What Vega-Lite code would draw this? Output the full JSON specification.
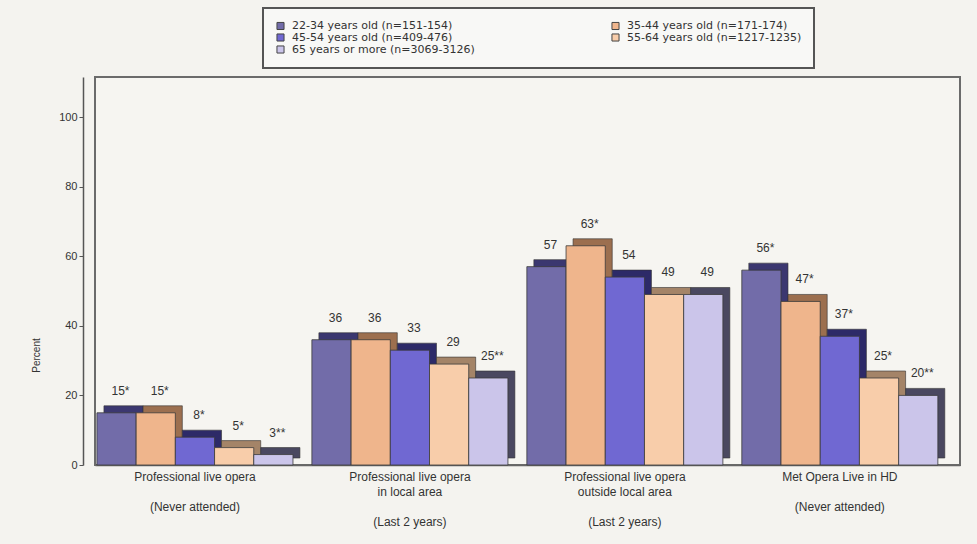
{
  "$schema": "https://vega.github.io/schema/vega-lite/v6.json",
  "width": 865,
  "height": 388,
  "autosize": {"type": "none"},
  "padding": {"left": 95, "top": 77, "right": 17, "bottom": 79},
  "background": "#f4f3ef",
  "config": {
    "font": "Liberation Sans",
    "view": {"stroke": "#6b6b6b", "strokeWidth": 2, "fill": "#f6f5f1"},
    "legend": {"strokeWidth": 2}
  },
  "data": {
    "values": [
      {"activity": "Professional live opera|\u2800|(Never attended)", "age": "22-34 years old (n=151-154)", "value": 15, "sig": "*"},
      {"activity": "Professional live opera|\u2800|(Never attended)", "age": "35-44 years old (n=171-174)", "value": 15, "sig": "*"},
      {"activity": "Professional live opera|\u2800|(Never attended)", "age": "45-54 years old (n=409-476)", "value": 8, "sig": "*"},
      {"activity": "Professional live opera|\u2800|(Never attended)", "age": "55-64 years old (n=1217-1235)", "value": 5, "sig": "*"},
      {"activity": "Professional live opera|\u2800|(Never attended)", "age": "65 years or more (n=3069-3126)", "value": 3, "sig": "**"},
      {"activity": "Professional live opera|in local area|\u2800|(Last 2 years)", "age": "22-34 years old (n=151-154)", "value": 36, "sig": ""},
      {"activity": "Professional live opera|in local area|\u2800|(Last 2 years)", "age": "35-44 years old (n=171-174)", "value": 36, "sig": ""},
      {"activity": "Professional live opera|in local area|\u2800|(Last 2 years)", "age": "45-54 years old (n=409-476)", "value": 33, "sig": ""},
      {"activity": "Professional live opera|in local area|\u2800|(Last 2 years)", "age": "55-64 years old (n=1217-1235)", "value": 29, "sig": ""},
      {"activity": "Professional live opera|in local area|\u2800|(Last 2 years)", "age": "65 years or more (n=3069-3126)", "value": 25, "sig": "**"},
      {"activity": "Professional live opera|outside local area|\u2800|(Last 2 years)", "age": "22-34 years old (n=151-154)", "value": 57, "sig": ""},
      {"activity": "Professional live opera|outside local area|\u2800|(Last 2 years)", "age": "35-44 years old (n=171-174)", "value": 63, "sig": "*"},
      {"activity": "Professional live opera|outside local area|\u2800|(Last 2 years)", "age": "45-54 years old (n=409-476)", "value": 54, "sig": ""},
      {"activity": "Professional live opera|outside local area|\u2800|(Last 2 years)", "age": "55-64 years old (n=1217-1235)", "value": 49, "sig": ""},
      {"activity": "Professional live opera|outside local area|\u2800|(Last 2 years)", "age": "65 years or more (n=3069-3126)", "value": 49, "sig": ""},
      {"activity": "Met Opera Live in HD|\u2800|(Never attended)", "age": "22-34 years old (n=151-154)", "value": 56, "sig": "*"},
      {"activity": "Met Opera Live in HD|\u2800|(Never attended)", "age": "35-44 years old (n=171-174)", "value": 47, "sig": "*"},
      {"activity": "Met Opera Live in HD|\u2800|(Never attended)", "age": "45-54 years old (n=409-476)", "value": 37, "sig": "*"},
      {"activity": "Met Opera Live in HD|\u2800|(Never attended)", "age": "55-64 years old (n=1217-1235)", "value": 25, "sig": "*"},
      {"activity": "Met Opera Live in HD|\u2800|(Never attended)", "age": "65 years or more (n=3069-3126)", "value": 20, "sig": "**"}
    ]
  },
  "encoding": {
    "x": {
      "field": "activity",
      "type": "nominal",
      "sort": null,
      "scale": {"paddingInner": 0.088, "paddingOuter": 0.056, "align": 0.08},
      "axis": {
        "title": null,
        "labelAngle": 0,
        "labelExpr": "split(datum.label, '|')",
        "labelLineHeight": 15,
        "labelFontSize": 12,
        "labelColor": "#333333",
        "labelPadding": 6,
        "labelLimit": 300,
        "ticks": false,
        "domainColor": "#666666",
        "domainWidth": 1.5
      }
    },
    "y": {
      "field": "value",
      "type": "quantitative",
      "scale": {"domain": [0, 111.5], "nice": false},
      "axis": {
        "title": "Percent",
        "titleFontSize": 10,
        "titleFontWeight": "normal",
        "titleColor": "#333333",
        "titleX": -42,
        "titleY": 278,
        "values": [0, 20, 40, 60, 80, 100],
        "offset": 12,
        "grid": false,
        "domainColor": "#555555",
        "domainWidth": 1.5,
        "tickColor": "#555555",
        "tickSize": 4,
        "labelFontSize": 11,
        "labelColor": "#333333",
        "labelPadding": 2
      }
    }
  },
  "layer": [
    {
      "mark": {"type": "bar", "yOffset": -7, "stroke": "#333333", "strokeWidth": 0.6},
      "encoding": {
        "xOffset": {
          "field": "age",
          "type": "nominal",
          "sort": null,
          "scale": {"paddingInner": 0, "paddingOuter": 0, "range": [7, 203]}
        },
        "color": {
          "field": "age",
          "type": "nominal",
          "sort": null,
          "scale": {"range": ["#3b3770", "#9c6f4f", "#2d2a68", "#a48468", "#4a4860"]},
          "legend": null
        }
      }
    },
    {
      "layer": [
        {
          "mark": {"type": "bar", "stroke": "#3a3a3a", "strokeWidth": 0.8},
          "encoding": {
            "color": {
              "field": "age",
              "type": "nominal",
              "sort": null,
              "scale": {"range": ["#726ca9", "#efb58c", "#7068d2", "#f8cdaa", "#cbc5ea"]},
              "legend": {
                "title": null,
                "orient": "none",
                "legendX": 168,
                "legendY": -69,
                "columns": 2,
                "direction": "horizontal",
                "columnPadding": 134,
                "rowPadding": -1,
                "padding": 12,
                "strokeColor": "#555555",
                "fillColor": "#f8f8f6",
                "symbolType": "square",
                "symbolSize": 50,
                "symbolStrokeColor": "#444444",
                "symbolStrokeWidth": 1,
                "labelFont": "DejaVu Sans",
                "labelFontSize": 11,
                "labelColor": "#333333",
                "labelLimit": 300,
                "labelOffset": 6
              }
            }
          }
        },
        {
          "transform": [{"calculate": "datum.value + datum.sig", "as": "label"}],
          "mark": {"type": "text", "dx": 4, "dy": -22, "fontSize": 12, "color": "#333333", "baseline": "middle"},
          "encoding": {"text": {"field": "label", "type": "nominal"}}
        }
      ],
      "encoding": {
        "xOffset": {
          "field": "age",
          "type": "nominal",
          "sort": null,
          "scale": {"paddingInner": 0, "paddingOuter": 0}
        }
      }
    }
  ],
  "resolve": {"scale": {"color": "independent", "xOffset": "independent"}}
}
